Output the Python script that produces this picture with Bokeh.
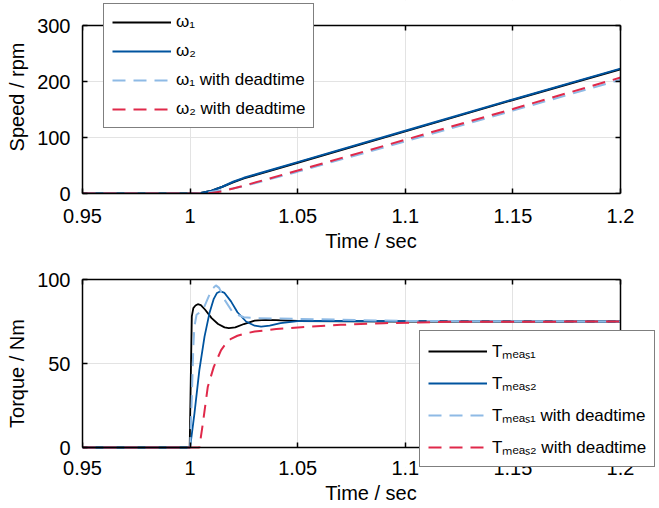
from bokeh.plotting import figure
from bokeh.layouts import column
from bokeh.models import (Legend, LegendItem, LinearAxis, FixedTicker, CustomJSTickFormatter,
                          Range1d, BoxAnnotation)
from bokeh.embed import file_html
from bokeh.resources import INLINE

# ---- data: speed ----
t_w1 = [0.95, 1.0, 1.005, 1.01, 1.015, 1.02, 1.025, 1.05, 1.1, 1.15, 1.2]
w1 = [0, 0, 1, 5, 12, 20, 27, 55, 111, 167, 222]
t_w2 = [0.95, 1.0, 1.005, 1.01, 1.015, 1.02, 1.025, 1.05, 1.1, 1.15, 1.2]
w2 = [0, 0, 1, 5, 12, 21, 28, 56, 112, 168, 223]
t_w1_dt = [0.95, 1.0, 1.005, 1.01, 1.015, 1.02, 1.025, 1.05, 1.1, 1.15, 1.2]
w1_dt = [0, 0, 1, 3, 6, 9, 13, 39, 93, 148, 203]
t_w2_dt = [0.95, 1.005, 1.01, 1.015, 1.02, 1.025, 1.05, 1.1, 1.15, 1.2]
w2_dt = [0, 0, 1, 4, 9, 14, 41, 96, 151, 207]

# ---- data: torque ----
t_T1 = [0.95, 0.9998, 1.0003, 1.0008, 1.0015, 1.0025, 1.0036, 1.005, 1.007, 1.01,
        1.013, 1.016, 1.018, 1.021, 1.025, 1.03, 1.035, 1.04, 1.05, 1.1, 1.2]
T1 = [0, 0, 40, 78, 83, 84.5, 85.3, 84.8, 82, 77,
      73.5, 71.5, 71, 71.5, 73.5, 75.5, 76, 75.8, 75.3, 75, 75]
t_T2 = [0.95, 1.0, 1.002, 1.0043, 1.0067, 1.009, 1.011, 1.0125, 1.0141, 1.016,
        1.019, 1.022, 1.026, 1.03, 1.033, 1.037, 1.042, 1.05, 1.06, 1.2]
T2 = [0, 0, 20, 46, 66, 80, 88.5, 92, 93, 92,
      87, 80.5, 75, 72.5, 72, 72.5, 74, 75.2, 75.3, 75]
t_T1_dt = [0.95, 1.0, 1.0008, 1.0015, 1.002, 1.003, 1.0045, 1.006, 1.008, 1.01,
           1.012, 1.0135, 1.016, 1.02, 1.025, 1.03, 1.04, 1.06, 1.1, 1.2]
T1_dt = [0, 0, 30, 60, 72, 79, 80.5, 82, 88, 94,
         96.5, 95, 88, 80, 77.5, 77, 76.8, 76.3, 75.3, 75]
t_T2_dt = [0.95, 1.0043, 1.006, 1.0082, 1.011, 1.0144, 1.017, 1.019, 1.022, 1.025,
           1.03, 1.04, 1.0516, 1.07, 1.09, 1.12, 1.2]
T2_dt = [0, 0, 15, 36, 48, 58, 62.5, 64.7, 66.5, 67.7,
         69, 70.5, 71.6, 73, 74, 74.8, 75]

x_ticks = [0.95, 1.0, 1.05, 1.1, 1.15, 1.2]
x_tick_labels = {0.95: "0.95", 1.0: "1", 1.05: "1.05", 1.1: "1.1", 1.15: "1.15", 1.2: "1.2"}
speed_ticks = [0, 100, 200, 300]
torque_ticks = [0, 50, 100]

speed_labels = ["ω₁", "ω₂", "ω₁ with deadtime", "ω₂ with deadtime"]
torque_labels = ["Tₘₑₐₛ₁", "Tₘₑₐₛ₂", "Tₘₑₐₛ₁ with deadtime", "Tₘₑₐₛ₂ with deadtime"]

X0, X1 = 0.95, 1.2
S0, S1 = 0, 300
Q0, Q1 = 0, 100

C_BLACK = "#000000"
C_BLUE = "#00549f"
C_LBLUE = "#8ebae5"
C_RED = "#e0294a"
FONT = "Liberation Sans"
DASH = "13 8"

# pixel layout of the axes boxes (page coordinates)
W = 659
BOX_L, BOX_R = 82, 620
TOP_BOX_T, TOP_BOX_B = 25, 193
BOT_BOX_T, BOT_BOX_B = 279, 447
LEG2_BOTTOM = 467
PX_PER_X = (BOX_R - BOX_L) / (X1 - X0)
X_END = X1 + (W - BOX_R) / PX_PER_X   # frame reaches the right page edge (legend overhang)


def blank_axis(ticks, **kw):
    return LinearAxis(ticker=FixedTicker(ticks=ticks), formatter=CustomJSTickFormatter(code="return ''"),
                      major_tick_in=5, major_tick_out=0, minor_tick_in=0, minor_tick_out=0,
                      major_label_standoff=0, axis_line_color="black", axis_line_width=1.5,
                      major_tick_line_width=1.5, major_label_text_font_size="0px", **kw)


def cover(**kw):
    return BoxAnnotation(fill_color="white", fill_alpha=1, line_color=None, level="underlay", **kw)


def style(p, yticks, ylabel, yb):
    p.xaxis.ticker = FixedTicker(ticks=x_ticks)
    p.xaxis.major_label_overrides = x_tick_labels
    p.yaxis.ticker = FixedTicker(ticks=yticks)
    for ax in (p.xaxis[0], p.yaxis[0]):
        ax.major_label_text_font = FONT
        ax.major_label_text_font_size = "20px"
        ax.major_label_text_color = "black"
        ax.axis_label_text_font = FONT
        ax.axis_label_text_font_size = "20px"
        ax.axis_label_text_font_style = "normal"
        ax.axis_label_text_color = "black"
        ax.major_tick_in = 5
        ax.major_tick_out = 0
        ax.minor_tick_in = 0
        ax.minor_tick_out = 0
        ax.axis_line_color = "black"
        ax.axis_line_width = 1.5
        ax.major_tick_line_width = 1.5
    p.xaxis.bounds = (X0, X1)
    p.yaxis.bounds = yb
    p.xaxis.axis_label = "Time / sec"
    p.yaxis.axis_label = ylabel
    p.xaxis.major_label_standoff = 15
    p.yaxis.major_label_standoff = 12
    p.xaxis.axis_label_standoff = 4
    p.yaxis.axis_label_standoff = 6
    p.grid.grid_line_color = "#e3e3e3"
    p.grid.grid_line_width = 1
    p.xgrid.ticker = FixedTicker(ticks=x_ticks)
    p.ygrid.ticker = FixedTicker(ticks=yticks)
    p.outline_line_color = None
    # right box edge with inward ticks, placed at x = 1.2 inside the wider frame
    p.add_layout(blank_axis(yticks, fixed_location=X1, bounds=yb), "right")
    # hide grid beyond x = 1.2
    p.add_layout(cover(left=X1))


def make_legend(items, loc):
    lg = Legend(items=items, location=loc)
    lg.label_text_font = FONT
    lg.label_text_font_size = "17px"
    lg.label_text_color = "black"
    lg.glyph_width = 59
    lg.glyph_height = 20
    lg.label_height = 20
    lg.label_standoff = 5
    lg.spacing = 9
    lg.padding = 8
    lg.margin = 0
    lg.border_line_color = "black"
    lg.border_line_width = 1.2
    lg.background_fill_color = "white"
    lg.background_fill_alpha = 1
    return lg


# ---- top figure: frame reaches the page top so that the legend may stick out above the box ----
H1 = 258
top_y_end = S1 + TOP_BOX_T * (S1 - S0) / (TOP_BOX_B - TOP_BOX_T)
p1 = figure(width=W, height=H1, output_backend="svg", toolbar_location=None,
            x_range=Range1d(X0, X_END), y_range=Range1d(S0, top_y_end),
            min_border_left=BOX_L, min_border_right=0, min_border_top=0,
            min_border_bottom=H1 - TOP_BOX_B)
style(p1, speed_ticks, "Speed / rpm", (S0, S1))
p1.add_layout(blank_axis(x_ticks, fixed_location=S1, bounds=(X0, X1)), "above")
p1.add_layout(cover(bottom=S1))
r1 = p1.line(t_w1, w1, line_color=C_BLACK, line_width=2)
r2 = p1.line(t_w2, w2, line_color=C_BLUE, line_width=2)
r3 = p1.line(t_w1_dt, w1_dt, line_color=C_LBLUE, line_width=2, line_dash=DASH)
r4 = p1.line(t_w2_dt, w2_dt, line_color=C_RED, line_width=2, line_dash=DASH)
lg1 = make_legend([LegendItem(label=speed_labels[i], renderers=[r]) for i, r in enumerate([r1, r2, r3, r4])],
                  (103 - BOX_L, TOP_BOX_B - 128))
p1.add_layout(lg1)

# ---- bottom figure: frame reaches 20px below the box (legend overhang) ----
H2 = 508 - H1
ppy = (BOT_BOX_B - BOT_BOX_T) / (Q1 - Q0)
bot_y_start = Q0 - (LEG2_BOTTOM - BOT_BOX_B) / ppy
p2 = figure(width=W, height=H2, output_backend="svg", toolbar_location=None,
            x_range=Range1d(X0, X_END), y_range=Range1d(bot_y_start, Q1),
            min_border_left=BOX_L, min_border_right=0, min_border_top=BOT_BOX_T - H1,
            min_border_bottom=H2 - (LEG2_BOTTOM - H1))
style(p2, torque_ticks, "Torque / Nm", (Q0, Q1))
# main x axis at the frame bottom only carries the labels, pulled up to sit under the box
xa = p2.xaxis[0]
xa.axis_line_color = None
xa.major_tick_line_color = None
xa.major_label_standoff = -(LEG2_BOTTOM - BOT_BOX_B) + 13
xa.axis_label_standoff = 4
# box bottom with inward ticks at y = 0
p2.add_layout(blank_axis(x_ticks, fixed_location=Q0, bounds=(X0, X1)), "below")
p2.add_layout(blank_axis(x_ticks, bounds=(X0, X1)), "above")
p2.add_layout(cover(top=Q0))
q1 = p2.line(t_T1, T1, line_color=C_BLACK, line_width=1.8)
q2 = p2.line(t_T2, T2, line_color=C_BLUE, line_width=1.8)
q3 = p2.line(t_T1_dt, T1_dt, line_color=C_LBLUE, line_width=2, line_dash=DASH)
q4 = p2.line(t_T2_dt, T2_dt, line_color=C_RED, line_width=2, line_dash=DASH)
lg2 = make_legend([LegendItem(label=torque_labels[i], renderers=[r]) for i, r in enumerate([q1, q2, q3, q4])],
                  (419 - BOX_L, 0))
p2.add_layout(lg2)

layout = column(p1, p2, spacing=0)
open("out.html", "w").write(file_html(layout, INLINE))
